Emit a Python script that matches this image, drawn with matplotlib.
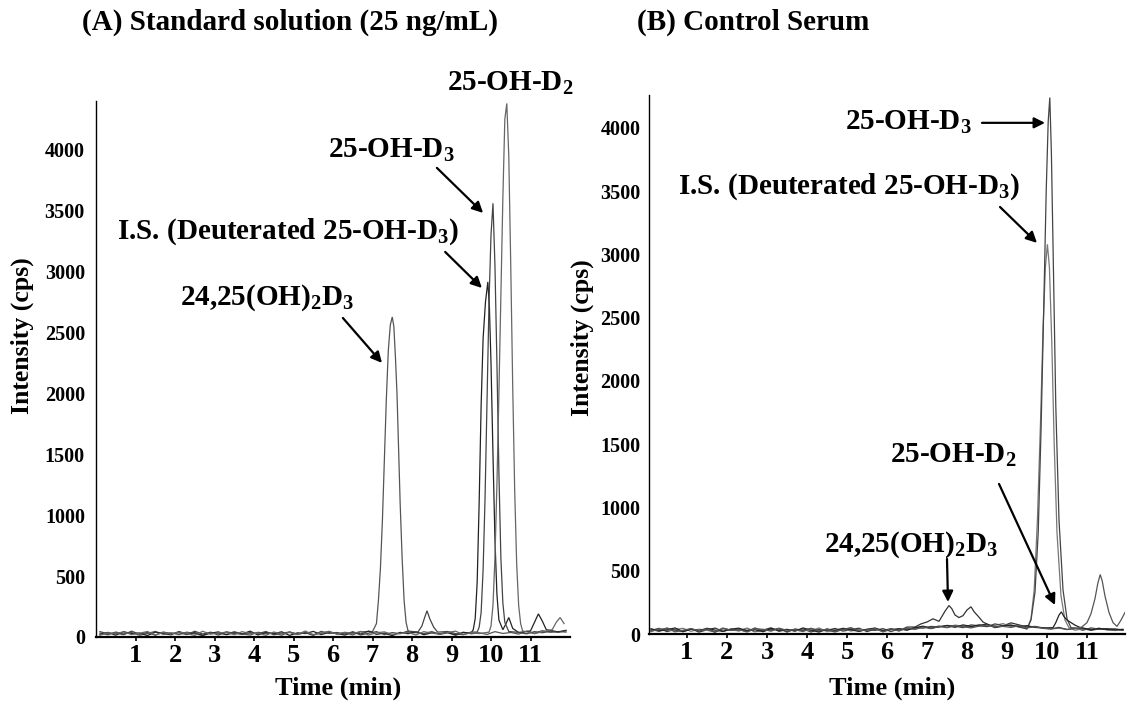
import numpy as np
import matplotlib
matplotlib.use("Agg")
import matplotlib.pyplot as plt

plt.rcParams['font.family'] = ['Liberation Serif', 'DejaVu Serif']
plt.rcParams['font.weight'] = 'bold'
plt.rcParams['mathtext.fontset'] = 'custom'
plt.rcParams['mathtext.rm'] = 'Liberation Serif:bold'
plt.rcParams['mathtext.it'] = 'Liberation Serif:bold'
plt.rcParams['mathtext.bf'] = 'Liberation Serif:bold'

# ---------------- data ----------------
X_TICKS = [1, 2, 3, 4, 5, 6, 7, 8, 9, 10, 11]
Y_TICKS = [0, 500, 1000, 1500, 2000, 2500, 3000, 3500, 4000]

BASE_T = [0.1, 0.3, 0.5, 0.7, 0.9, 1.1, 1.3, 1.5, 1.7, 1.9,
          2.1, 2.3, 2.5, 2.7, 2.9, 3.1, 3.3, 3.5, 3.7, 3.9,
          4.1, 4.3, 4.5, 4.7, 4.9, 5.1, 5.3, 5.5, 5.7, 5.9,
          6.1, 6.3, 6.5, 6.7, 6.9, 7.1, 7.3, 7.5, 7.7, 7.9,
          8.1, 8.3, 8.5, 8.7, 8.9, 9.1, 9.3, 9.5, 9.7, 9.9,
          10.1, 10.3, 10.5, 10.7, 10.9, 11.1, 11.3, 11.5, 11.7, 11.9]

# Panel A baselines (one per monitored trace)
NA_2425 = [32, 18, 41, 25, 37, 14, 29, 46, 22, 35,
           19, 40, 27, 12, 38, 30, 21, 44, 26, 16,
           39, 28, 33, 15, 42, 24, 36, 20, 31, 47,
           23, 34, 17, 43, 28, 38, 25, 41, 30, 19,
           36, 27, 45, 22, 33, 18, 40, 26, 35, 21,
           44, 29, 37, 24, 48, 31, 52, 38, 45, 40]
NA_IS = [21, 38, 15, 44, 27, 33, 12, 40, 29, 18,
         45, 23, 36, 14, 31, 42, 19, 35, 25, 48,
         17, 39, 26, 43, 13, 34, 28, 46, 20, 37,
         30, 16, 41, 24, 49, 22, 32, 11, 38, 27,
         43, 19, 34, 26, 40, 15, 36, 23, 47, 29,
         18, 41, 25, 37, 30, 46, 33, 50, 42, 55]
NA_D3 = [44, 26, 33, 19, 48, 23, 38, 15, 41, 28,
         34, 20, 47, 25, 39, 16, 43, 30, 22, 36,
         27, 45, 18, 32, 40, 21, 35, 13, 46, 29,
         37, 24, 42, 17, 31, 44, 20, 36, 27, 49,
         22, 39, 14, 33, 45, 28, 19, 41, 25, 34,
         30, 47, 21, 38, 26, 44, 35, 48, 39, 51]
NA_D2 = [15, 35, 28, 42, 20, 31, 45, 17, 36, 25,
         40, 29, 13, 47, 23, 34, 38, 19, 44, 27,
         32, 14, 41, 26, 37, 22, 49, 18, 33, 43,
         25, 39, 28, 46, 16, 35, 42, 21, 29, 38,
         17, 44, 31, 24, 37, 48, 20, 35, 28, 41,
         26, 33, 45, 19, 39, 27, 43, 36, 50, 46]

# Panel A peaks
PA_2425_T = [7.0, 7.1, 7.15, 7.2, 7.25, 7.3, 7.35, 7.4, 7.45, 7.5, 7.54, 7.58,
             7.62, 7.66, 7.7, 7.75, 7.8, 7.85, 7.9, 7.95]
PA_2425_V = [45, 110, 300, 560, 950, 1450, 1950, 2350, 2560, 2627, 2550, 2300,
             2000, 1550, 1100, 650, 300, 120, 50, 35]
PA_IS_T = [9.5, 9.55, 9.6, 9.65, 9.7, 9.75, 9.8, 9.86, 9.92, 9.96, 10.0, 10.05,
           10.1, 10.15, 10.2, 10.3, 10.38, 10.45, 10.55,
           11.0, 11.1, 11.2, 11.3, 11.4]
PA_IS_V = [35, 60, 150, 450, 1100, 1900, 2450, 2750, 2915, 2700, 2250, 1500,
           800, 350, 140, 60, 110, 160, 70,
           50, 120, 190, 130, 60]
PA_D3_T = [8.15, 8.25, 8.32, 8.38, 8.45, 8.55, 8.65,
           9.65, 9.7, 9.75, 9.8, 9.85, 9.9, 9.95, 10.0, 10.05, 10.1, 10.15,
           10.2, 10.25, 10.3, 10.35, 10.45]
PA_D3_V = [40, 90, 160, 215, 150, 80, 40,
           40, 80, 200, 550, 1150, 1950, 2750, 3300, 3560, 3050, 2250,
           1350, 650, 280, 120, 45]
PA_D2_T = [9.95, 10.0, 10.05, 10.1, 10.15, 10.2, 10.25, 10.3, 10.35, 10.4,
           10.45, 10.5, 10.55, 10.6, 10.65, 10.7, 10.75, 10.8,
           11.55, 11.65, 11.75, 11.85]
PA_D2_V = [40, 90, 260, 650, 1250, 2000, 2800, 3600, 4250, 4380,
           3950, 3050, 2050, 1200, 600, 260, 110, 50,
           60, 120, 160, 110]

# Panel B baselines
NB_2425 = [28, 45, 19, 36, 24, 41, 15, 33, 47, 22,
           38, 26, 43, 18, 31, 49, 21, 35, 27, 40,
           16, 37, 29, 44, 23, 34, 46, 19, 39, 28,
           42, 25, 55, 48, 62, 70, 58, 66, 75, 60,
           85, 70, 92, 78, 64, 88, 72, 55, 60, 48,
           40, 52, 36, 45, 30, 48, 38, 42, 35, 30]
NB_D3 = [35, 22, 47, 30, 18, 41, 26, 38, 14, 44,
         29, 36, 20, 48, 25, 33, 42, 17, 39, 27,
         45, 23, 31, 16, 37, 49, 24, 35, 28, 43,
         19, 40, 33, 52, 46, 60, 55, 68, 62, 50,
         72, 65, 58, 80, 66, 70, 55, 62, 45, 58,
         50, 38, 46, 33, 42, 29, 40, 35, 31, 38]
NB_IS = [19, 40, 27, 35, 45, 21, 38, 29, 16, 42,
         33, 24, 47, 20, 36, 28, 44, 15, 39, 31,
         26, 48, 18, 34, 41, 23, 37, 30, 45, 17,
         36, 28, 43, 40, 58, 48, 64, 52, 70, 62,
         55, 75, 60, 68, 82, 58, 64, 50, 45, 40,
         44, 36, 48, 30, 41, 35, 46, 32, 28, 35]
NB_D2 = [42, 24, 33, 48, 19, 37, 27, 45, 31, 20,
         39, 46, 25, 34, 18, 43, 29, 37, 22, 48,
         31, 15, 40, 27, 45, 33, 20, 38, 47, 26,
         35, 42, 30, 50, 62, 45, 57, 66, 53, 72,
         60, 68, 78, 56, 64, 70, 58, 66, 52, 48,
         55, 42, 50, 38, 46, 33, 44, 37, 40, 32]
NB_X = [23, 36, 45, 17, 30, 42, 25, 39, 20, 47,
        28, 34, 16, 41, 37, 22, 46, 29, 33, 19,
        44, 27, 38, 21, 35, 48, 26, 31, 43, 18,
        40, 24, 48, 36, 55, 42, 60, 50, 65, 58,
        48, 62, 70, 55, 60, 52, 66, 48, 58, 44,
        40, 47, 35, 43, 38, 30, 45, 36, 32, 40]

# Panel B peaks
PB_2425_T = [6.7, 6.85, 7.0, 7.15, 7.3, 7.45, 7.55, 7.62, 7.7, 7.8, 7.9, 8.0,
             8.1, 8.18, 8.28, 8.4, 8.55, 8.7]
PB_2425_V = [55, 80, 95, 120, 100, 180, 225, 200, 150, 130, 145, 190,
             215, 175, 140, 95, 70, 50]
PB_D3_T = [9.5, 9.6, 9.7, 9.78, 9.85, 9.92, 9.98, 10.03, 10.07, 10.11, 10.16,
           10.22, 10.3, 10.4, 10.5, 10.6]
PB_D3_V = [40, 110, 330, 800, 1600, 2600, 3500, 4050, 4240, 3800, 2900,
           1800, 900, 350, 120, 50]
PB_IS_T = [9.5, 9.6, 9.68, 9.76, 9.84, 9.9, 9.96, 10.01, 10.06, 10.12, 10.18,
           10.25, 10.35, 10.45, 10.55]
PB_IS_V = [40, 120, 350, 900, 1700, 2400, 2900, 3080, 2900, 2300, 1500,
           800, 300, 110, 50]
PB_D2_T = [10.15, 10.22, 10.3, 10.36, 10.42, 10.5, 10.6, 10.7, 10.8]
PB_D2_V = [50, 90, 150, 175, 140, 110, 90, 70, 55]
PB_X_T = [10.85, 11.0, 11.1, 11.2, 11.27, 11.33, 11.38, 11.45, 11.55, 11.65,
          11.75, 11.85, 11.95]
PB_X_V = [50, 90, 160, 280, 400, 470, 420, 300, 170, 90,
          60, 110, 170]


def build_trace(noise, feat_t, feat_v):
    bt = np.array(BASE_T, dtype=float)
    bv = np.array(noise, dtype=float)
    ft = np.array(feat_t, dtype=float)
    fv = np.array(feat_v, dtype=float)
    keep = np.min(np.abs(bt[:, None] - ft[None, :]), axis=1) > 0.12
    t = np.concatenate([bt[keep], ft])
    v = np.concatenate([bv[keep], fv])
    order = np.argsort(t)
    return t[order], v[order]


# ---------------- figure ----------------
W, H = 1131, 710
fig = plt.figure(figsize=(W / 100, H / 100), dpi=100)
axA = fig.add_axes([96 / W, 1 - 637 / H, 474 / W, 536 / H])
axB = fig.add_axes([649 / W, 1 - 634 / H, 476 / W, 539 / H])

tracesA = [(NA_2425, PA_2425_T, PA_2425_V, '#555555'),
           (NA_IS, PA_IS_T, PA_IS_V, '#222222'),
           (NA_D3, PA_D3_T, PA_D3_V, '#444444'),
           (NA_D2, PA_D2_T, PA_D2_V, '#666666')]
tracesB = [(NB_2425, PB_2425_T, PB_2425_V, '#333333'),
           (NB_IS, PB_IS_T, PB_IS_V, '#777777'),
           (NB_D3, PB_D3_T, PB_D3_V, '#444444'),
           (NB_D2, PB_D2_T, PB_D2_V, '#222222'),
           (NB_X, PB_X_T, PB_X_V, '#555555')]

for ax, traces in ((axA, tracesA), (axB, tracesB)):
    for noise, ft, fv, col in traces:
        t, v = build_trace(noise, ft, fv)
        ax.plot(t, v, color=col, lw=0.9, solid_joinstyle='miter')

axA.set_xlim(0, 12)
axA.set_ylim(0, 4400)
axB.set_xlim(0.05, 11.95)
axB.set_ylim(0, 4260)

for ax, ypad in ((axA, 8), (axB, 6)):
    ax.set_xticks(X_TICKS)
    ax.set_yticks(Y_TICKS)
    ax.set_xticklabels([str(x) for x in X_TICKS], fontsize=19, fontweight='bold')
    ax.set_yticklabels([str(y) for y in Y_TICKS], fontsize=14.5, fontweight='bold')
    ax.tick_params(axis='y', length=0, pad=ypad)
    ax.tick_params(axis='x', length=3, width=1.2, direction='out', pad=2)
    for s in ('top', 'right'):
        ax.spines[s].set_visible(False)
    ax.spines['left'].set_linewidth(1.0)
    ax.spines['bottom'].set_linewidth(1.6)
    ax.set_xlabel('Time (min)', fontsize=19, fontweight='bold', va='center')
    ax.set_ylabel('Intensity (cps)', fontsize=18.5, fontweight='bold', va='center')

axA.xaxis.set_label_coords(0.51, -0.095)
axA.yaxis.set_label_coords(-0.156, 0.563)
axB.xaxis.set_label_coords(0.51, -0.10)
axB.yaxis.set_label_coords(-0.141, 0.549)

axA.text(-0.0295, 1.147, '(A) Standard solution (25 ng/mL)', transform=axA.transAxes,
         fontsize=21, fontweight='bold', ha='left', va='center')
axB.text(-0.025, 1.134, '(B) Control Serum', transform=axB.transAxes,
         fontsize=21, fontweight='bold', ha='left', va='center')

arrow = dict(arrowstyle='-|>', color='black', lw=1.6, mutation_scale=16,
             shrinkA=0, shrinkB=0)
FS = 21

# Panel A annotations
axA.text(10.48, 4548, '25-OH-D$_2$', fontsize=FS, ha='center', va='center', clip_on=False)
axA.text(5.87, 3998, '25-OH-D$_3$', fontsize=FS, ha='left', va='center', clip_on=False)
axA.text(0.53, 3325, 'I.S. (Deuterated 25-OH-D$_3$)', fontsize=FS, ha='left', va='center', clip_on=False)
axA.text(2.13, 2783, '24,25(OH)$_2$D$_3$', fontsize=FS, ha='left', va='center', clip_on=False)
axA.annotate('', xy=(9.80, 3481), xytext=(8.63, 3851), arrowprops=arrow)
axA.annotate('', xy=(9.77, 2865), xytext=(8.84, 3161), arrowprops=arrow)
axA.annotate('', xy=(7.24, 2250), xytext=(6.25, 2619), arrowprops=arrow)

# Panel B annotations
axB.text(4.95, 4047, '25-OH-D$_3$', fontsize=FS, ha='left', va='center', clip_on=False)
axB.text(0.775, 3534, 'I.S. (Deuterated 25-OH-D$_3$)', fontsize=FS, ha='left', va='center', clip_on=False)
axB.text(6.075, 1415, '25-OH-D$_2$', fontsize=FS, ha='left', va='center', clip_on=False)
axB.text(4.425, 704, '24,25(OH)$_2$D$_3$', fontsize=FS, ha='left', va='center', clip_on=False)
axB.annotate('', xy=(9.95, 4040), xytext=(8.375, 4040), arrowprops=arrow)
axB.annotate('', xy=(9.75, 3091), xytext=(8.825, 3375), arrowprops=arrow)
axB.annotate('', xy=(10.2, 229), xytext=(8.8, 1186), arrowprops=arrow)
axB.annotate('', xy=(7.525, 253), xytext=(7.5, 593), arrowprops=arrow)

fig.savefig('out.png', dpi=100, facecolor='white')
